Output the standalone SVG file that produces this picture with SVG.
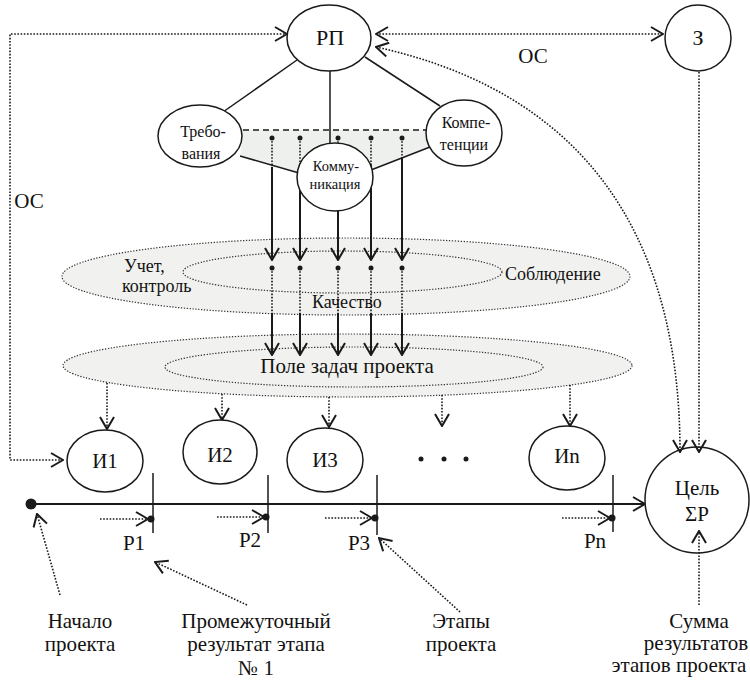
<svg xmlns="http://www.w3.org/2000/svg" width="750" height="683" viewBox="0 0 750 683" font-family="Liberation Serif, serif">
<style>
text{fill:#111;}
.t22{font-size:22px;text-anchor:middle;}
.t21{font-size:21px;text-anchor:middle;}
.t18{font-size:18px;}
.t16{font-size:16px;text-anchor:middle;}
.t14{font-size:14.5px;text-anchor:middle;}
.node{fill:#fff;stroke:#1a1a1a;stroke-width:1.5;}
.solid{fill:none;stroke:#1a1a1a;stroke-width:2;}
.thin{fill:none;stroke:#1a1a1a;stroke-width:1.5;}
.dot{fill:none;stroke:#1a1a1a;stroke-width:1.6;stroke-dasharray:1.6 1.6;}
.field{fill:#f1f1ef;stroke:#333;stroke-width:1.2;stroke-dasharray:1.3 1.6;}
.pt{fill:#1a1a1a;}
</style>
<defs>
<marker id="arr" viewBox="0 0 14 16" refX="13" refY="8" markerWidth="14" markerHeight="16" markerUnits="userSpaceOnUse" orient="auto-start-reverse">
<path d="M1,1 L13,8 L1,15" fill="none" stroke="#1a1a1a" stroke-width="2"/>
</marker>
</defs>

<g id="fields">
<ellipse class="field" cx="346" cy="276.5" rx="284" ry="38.5"/>
<ellipse class="field" cx="342.5" cy="272" rx="159.5" ry="21"/>
<ellipse class="field" cx="347.5" cy="365.5" rx="284.5" ry="31.5"/>
<ellipse class="field" cx="354" cy="367" rx="189" ry="20"/>
<polygon points="243,130 428,130 430,147 372,170 297,173 240,156" fill="#eef0ee"/>
<line x1="243" y1="130" x2="428" y2="130" stroke="#1a1a1a" stroke-width="1.5" stroke-dasharray="6 4"/>
</g>

<g id="connectors">
<line class="thin" x1="297" y1="60" x2="223" y2="112"/>
<line class="thin" x1="365" y1="57" x2="440" y2="106"/>
<line class="thin" x1="330" y1="70" x2="330" y2="145"/>
<line class="thin" x1="240" y1="156" x2="299" y2="173"/>
<line class="thin" x1="371" y1="170" x2="430" y2="147"/>

<path class="dot" d="M63,460 H10 V34 H287" marker-start="url(#arr)" marker-end="url(#arr)"/>
<path class="dot" d="M376,34 H663" marker-start="url(#arr)" marker-end="url(#arr)"/>

<g>
<path class="dot" d="M272,138 V167"/><path class="solid" d="M272,167 V260" marker-end="url(#arr)"/>
<path class="dot" d="M300,138 V170"/><path class="solid" d="M300,170 V260" marker-end="url(#arr)"/>
<path class="dot" d="M338,138 V150"/><path class="solid" d="M338,150 V260" marker-end="url(#arr)"/>
<path class="dot" d="M371,138 V165"/><path class="solid" d="M371,165 V260" marker-end="url(#arr)"/>
<path class="dot" d="M402,138 V157"/><path class="solid" d="M402,157 V260" marker-end="url(#arr)"/>
<circle class="pt" cx="272" cy="138" r="2.5"/><circle class="pt" cx="300" cy="138" r="2.5"/><circle class="pt" cx="338" cy="138" r="2.5"/><circle class="pt" cx="371" cy="138" r="2.5"/><circle class="pt" cx="402" cy="138" r="2.5"/>
</g>
<g>
<path class="dot" d="M272,268 V313"/><path class="solid" d="M272,313 V355" marker-end="url(#arr)"/>
<path class="dot" d="M300,268 V313"/><path class="solid" d="M300,313 V355" marker-end="url(#arr)"/>
<path class="dot" d="M338,268 V313"/><path class="solid" d="M338,313 V355" marker-end="url(#arr)"/>
<path class="dot" d="M371,268 V313"/><path class="solid" d="M371,313 V355" marker-end="url(#arr)"/>
<path class="dot" d="M402,268 V313"/><path class="solid" d="M402,313 V355" marker-end="url(#arr)"/>
<circle class="pt" cx="272" cy="268" r="2.5"/><circle class="pt" cx="300" cy="268" r="2.5"/><circle class="pt" cx="338" cy="268" r="2.5"/><circle class="pt" cx="371" cy="268" r="2.5"/><circle class="pt" cx="402" cy="268" r="2.5"/>
</g>

<path class="dot" d="M107,383 V429" marker-end="url(#arr)"/>
<path class="dot" d="M222,394 V420" marker-end="url(#arr)"/>
<path class="dot" d="M329,397 V427" marker-end="url(#arr)"/>
<path class="dot" d="M442,395 V426" marker-end="url(#arr)"/>
<path class="dot" d="M570,385 V426" marker-end="url(#arr)"/>

<path class="solid" d="M31,504 H645" marker-end="url(#arr)"/>
<circle class="pt" cx="31" cy="504" r="5.5"/>
<line class="thin" x1="153" y1="473" x2="153" y2="533"/>
<line class="thin" x1="268" y1="475" x2="268" y2="533"/>
<line class="thin" x1="377" y1="475" x2="377" y2="535"/>
<line class="thin" x1="613" y1="475" x2="613" y2="532"/>
<path class="dot" d="M100,519 H148" marker-end="url(#arr)"/>
<path class="dot" d="M217,517 H264" marker-end="url(#arr)"/>
<path class="dot" d="M325,518 H372" marker-end="url(#arr)"/>
<path class="dot" d="M562,518 H610" marker-end="url(#arr)"/>
<circle class="pt" cx="151" cy="519" r="3.5"/>
<circle class="pt" cx="266" cy="517" r="3.5"/>
<circle class="pt" cx="375" cy="518" r="3.5"/>
<circle class="pt" cx="612" cy="518" r="3.5"/>

<path class="dot" d="M60,595 L37,514" marker-end="url(#arr)"/>
<path class="dot" d="M247,605 L155,562" marker-end="url(#arr)"/>
<path class="dot" d="M460,612 L379,538" marker-end="url(#arr)"/>
</g>

<g id="node-rp"><ellipse class="node" cx="329" cy="38" rx="42" ry="33"/><text class="t22" x="330" y="45">РП</text></g>
<g id="node-z"><ellipse class="node" cx="698" cy="38" rx="33" ry="33"/><text class="t22" x="698" y="45">З</text></g>
<g id="node-treb"><ellipse class="node" cx="200" cy="136" rx="42" ry="31"/><text class="t16" x="203" y="137">Требо-</text><text class="t16" x="201" y="159">вания</text></g>
<g id="node-komm"><ellipse class="node" cx="335" cy="177" rx="38" ry="34"/><text class="t14" x="336" y="171">Комму-</text><text class="t14" x="335" y="189">никация</text></g>
<g id="node-komp"><ellipse class="node" cx="464" cy="133" rx="38" ry="33"/><text class="t16" x="466" y="128">Компе-</text><text class="t16" x="464" y="150">тенции</text></g>
<g id="node-i1"><ellipse class="node" cx="105" cy="461" rx="38" ry="31"/><text class="t21" x="105" y="468">И1</text></g>
<g id="node-i2"><ellipse class="node" cx="220" cy="452" rx="37" ry="32"/><text class="t21" x="220" y="462">И2</text></g>
<g id="node-i3"><ellipse class="node" cx="325" cy="460" rx="38" ry="32"/><text class="t21" x="325" y="467">И3</text></g>
<g id="node-dots"><circle class="pt" cx="421" cy="459" r="2.5"/><circle class="pt" cx="444" cy="459" r="2.5"/><circle class="pt" cx="466" cy="459" r="2.5"/></g>
<g id="node-in"><ellipse class="node" cx="567" cy="458" rx="38" ry="32"/><text class="t21" x="567" y="463">Иn</text></g>
<g id="node-goal"><ellipse class="node" cx="697" cy="500" rx="52" ry="53"/><text class="t21" x="697" y="495">Цель</text><text class="t21" x="697" y="521">ΣР</text></g>

<g id="connectors-goal">
<path class="dot" d="M376,47 C605,97 680,260 680,452" marker-start="url(#arr)" marker-end="url(#arr)"/>
<path class="dot" d="M699,72 V452" marker-end="url(#arr)"/>
<path class="dot" d="M699,605 V531" marker-end="url(#arr)"/>
</g>

<g id="labels">
<text class="t21" x="533" y="63">ОС</text>
<text class="t21" x="29" y="208">ОС</text>
<text class="t18" x="124" y="272">Учет,</text>
<text class="t18" x="122" y="292">контроль</text>
<text class="t18" x="505" y="280">Соблюдение</text>
<text class="t18" x="312" y="308">Качество</text>
<text class="t21" x="347" y="373">Поле задач проекта</text>
<text class="t21" x="134" y="550">Р1</text>
<text class="t21" x="250" y="547">Р2</text>
<text class="t21" x="359" y="550">Р3</text>
<text class="t21" x="595" y="548">Рn</text>
<text class="t21" x="80" y="628">Начало</text>
<text class="t21" x="80" y="651">проекта</text>
<text class="t21" x="256" y="628">Промежуточный</text>
<text class="t21" x="256" y="651">результат этапа</text>
<text class="t21" x="256" y="675">№ 1</text>
<text class="t21" x="461" y="628">Этапы</text>
<text class="t21" x="461" y="651">проекта</text>
<text class="t21" x="699" y="628">Сумма</text>
<text class="t21" x="696" y="650">результатов</text>
<text class="t21" x="679" y="672">этапов проекта</text>
</g>
</svg>
